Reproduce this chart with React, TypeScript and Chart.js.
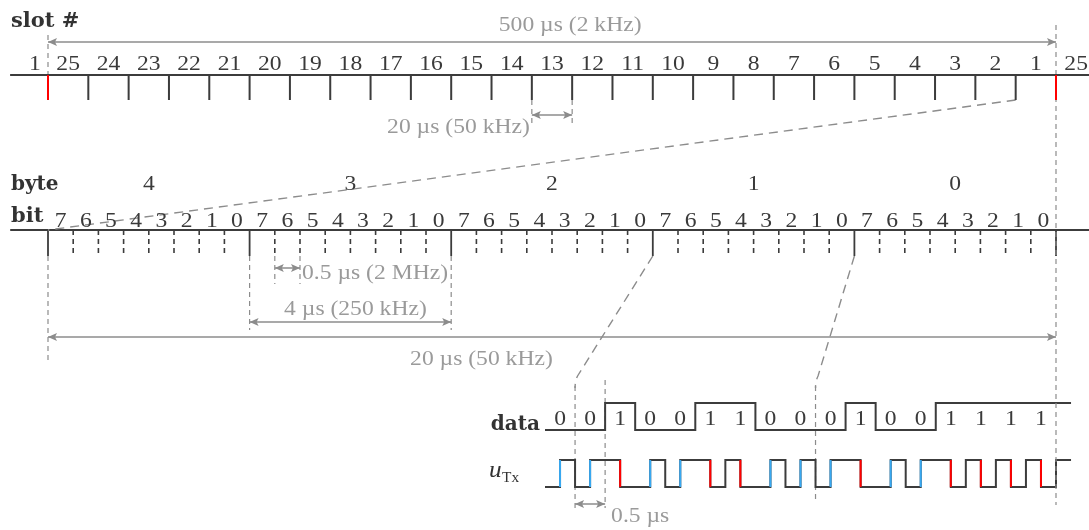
import React, { useEffect, useRef } from 'react';
import { Chart, registerables } from 'chart.js';
Chart.register(...registerables);

// ---------------- data ----------------
const slotNumbers = [1, 25, 24, 23, 22, 21, 20, 19, 18, 17, 16, 15, 14, 13, 12, 11, 10, 9, 8, 7, 6, 5, 4, 3, 2, 1, 25];
const byteNumbers = [4, 3, 2, 1, 0];
const bitNumbers = [7, 6, 5, 4, 3, 2, 1, 0];
// last bit of byte 2, then byte 1 and byte 0 (MSB first)
const dataBits = [0, 0, 1, 0, 0, 1, 1, 0, 0, 0, 1, 0, 0, 1, 1, 1, 1];
const nextBit = 1;
const rowLabels = { slot: 'slot #', byte: 'byte', bit: 'bit', data: 'data' };
const spanLabels = {
  frame: '500 µs (2 kHz)',
  slot: '20 µs (50 kHz)',
  bit: '0.5 µs (2 MHz)',
  byte: '4 µs (250 kHz)',
  word: '20 µs (50 kHz)',
  wave: '0.5 µs',
};

// ---------------- layout ----------------
const W = 1089;
const H = 530;
const SLOT_X0 = 48;
const SLOT_PX = (1056 - 48) / 25;
const BIT_PX = (1056 - 48) / 40;
const WAVE_X0 = 545;
const WAVE_PX = (1056 - 545) / 17;

const GRAY = '#8c8c8c';
const GRAY_TXT = '#9a9a9a';
const DARK = '#3c3c3c';
const RED = '#ff0000';
const BLUE = '#38a8f0';

const SLOT_Y = 75;
const SLOT_TICK = 100;
const BIT_Y = 230;
const BIT_TICK = 256;
const D_HI = 403;
const D_LO = 430;
const U_HI = 460;
const U_LO = 487;

type Seg = [number, number, number, number];
const segs = (list: Seg[]) =>
  list.flatMap(([x1, y1, x2, y2]) => [
    { x: x1, y: y1 },
    { x: x2, y: y2 },
    { x: x2, y: null as any },
  ]);

const ds = (axis: string, data: any[], color: string, width: number, dash: number[] = [], order = 5) => ({
  xAxisID: axis,
  yAxisID: 'y',
  data,
  borderColor: color,
  borderWidth: width,
  borderDash: dash,
  pointRadius: 0,
  pointHoverRadius: 0,
  fill: false,
  tension: 0,
  spanGaps: false,
  borderJoinStyle: 'miter',
  borderCapStyle: 'butt',
  order,
});

const arrows = [
  { axis: 'xSlot', from: 0, to: 25, y: 42 },
  { axis: 'xSlot', from: 12, to: 13, y: 115 },
  { axis: 'xBit', from: 9, to: 10, y: 268 },
  { axis: 'xBit', from: 8, to: 16, y: 322 },
  { axis: 'xBit', from: 0, to: 40, y: 337 },
  { axis: 'xWave', from: 1, to: 2, y: 504 },
];

function buildDatasets() {
  const list: any[] = [];
  // slot axis
  list.push(ds('xSlot', segs([[-0.94, SLOT_Y, 26, SLOT_Y]]), DARK, 2));
  const darkTicks: Seg[] = [];
  const redTicks: Seg[] = [];
  for (let k = 0; k <= 25; k++) {
    (k === 0 || k === 25 ? redTicks : darkTicks).push([k, SLOT_Y, k, SLOT_TICK]);
  }
  list.push(ds('xSlot', segs(darkTicks), DARK, 2));
  list.push(ds('xSlot', segs(redTicks), RED, 2, [], 1));
  list.push(ds('xSlot', segs([[0, 35, 0, SLOT_Y], [25, 25, 25, 505], [12, SLOT_TICK, 12, 125], [13, SLOT_TICK, 13, 125]]), GRAY, 1.2, [5, 4]));
  list.push(ds('xSlot', segs([[24, SLOT_TICK, 0, BIT_Y]]), GRAY, 1.4, [9, 6]));

  // bit axis
  list.push(ds('xBit', segs([[-1.5, BIT_Y, 42, BIT_Y]]), DARK, 2));
  const byteTicks: Seg[] = [];
  const bitTicks: Seg[] = [];
  for (let k = 0; k <= 40; k++) {
    (k % 8 === 0 ? byteTicks : bitTicks).push([k, BIT_Y, k, BIT_TICK]);
  }
  list.push(ds('xBit', segs(byteTicks), DARK, 1.8));
  list.push(ds('xBit', segs(bitTicks), DARK, 1.6, [5, 4]));
  list.push(ds('xBit', segs([[0, BIT_TICK, 0, 362], [8, BIT_TICK, 8, 330], [16, BIT_TICK, 16, 330], [9, BIT_TICK, 9, 284], [10, BIT_TICK, 10, 284]]), GRAY, 1.2, [5, 4]));

  // arrows shafts
  arrows.forEach((a) => list.push(ds(a.axis, segs([[a.from, a.y, a.to, a.y]]), GRAY, 1.5)));

  // data waveform
  const dataPts: any[] = [];
  const all = [...dataBits, nextBit];
  all.forEach((b, i) => {
    const y = b ? D_HI : D_LO;
    dataPts.push({ x: i, y });
    dataPts.push({ x: i === all.length - 1 ? i + 0.5 : i + 1, y });
  });
  list.push(ds('xWave', dataPts, DARK, 2));

  // Manchester-coded uTx
  const uPts: any[] = [];
  const blue: Seg[] = [];
  const red: Seg[] = [];
  all.forEach((b, i) => {
    const first = b ? U_HI : U_LO;
    const second = b ? U_LO : U_HI;
    uPts.push({ x: i, y: first });
    uPts.push({ x: i + 0.5, y: first });
    if (i === all.length - 1) return;
    uPts.push({ x: i + 0.5, y: second });
    uPts.push({ x: i + 1, y: second });
    (b ? red : blue).push([i + 0.5, first, i + 0.5, second]);
  });
  list.push(ds('xWave', uPts, DARK, 2));
  list.push(ds('xWave', segs(blue), BLUE, 2, [], 1));
  list.push(ds('xWave', segs(red), RED, 2, [], 1));
  list.push(ds('xWave', segs([[1, 386, 1, 510], [2, 380, 2, 508], [9, 386, 9, 500]]), GRAY, 1.2, [5, 4]));
  return list;
}

function drawText(ctx: CanvasRenderingContext2D, str: string, x: number, y: number, font: string, color: string, align: 'left' | 'center' | 'right' = 'center', sx = 1.18) {
  ctx.save();
  ctx.font = font;
  ctx.fillStyle = color;
  ctx.textBaseline = 'alphabetic';
  ctx.textAlign = 'left';
  const w = ctx.measureText(str).width * sx;
  const x0 = align === 'center' ? x - w / 2 : align === 'right' ? x - w : x;
  ctx.translate(x0, y);
  ctx.scale(sx, 1);
  ctx.fillText(str, 0, 0);
  ctx.restore();
}

function arrowHead(ctx: CanvasRenderingContext2D, x: number, y: number, dir: number) {
  ctx.beginPath();
  ctx.moveTo(x, y);
  ctx.lineTo(x - dir * 9, y - 4);
  ctx.lineTo(x - dir * 7, y);
  ctx.lineTo(x - dir * 9, y + 4);
  ctx.closePath();
  ctx.fill();
}

const NUM = '20px "Liberation Serif"';
const BOLD = 'bold 20px "DejaVu Serif"';

const overlay = {
  id: 'overlay',
  afterDatasetsDraw(chart: any) {
    const ctx: CanvasRenderingContext2D = chart.ctx;
    const s = chart.scales;
    const px = (axis: string, v: number) => s[axis].getPixelForValue(v);
    const py = (v: number) => s.y.getPixelForValue(v);

    // connectors from byte boundaries to waveform
    ctx.save();
    ctx.strokeStyle = GRAY;
    ctx.lineWidth = 1.4;
    ctx.setLineDash([9, 6]);
    [[24, 1], [32, 9]].forEach(([bit, wv]) => {
      const x1 = px('xBit', bit);
      const x2 = px('xWave', wv);
      ctx.beginPath();
      ctx.moveTo(x1, py(BIT_TICK));
      ctx.lineTo(x2 + 2.5, py(376));
      ctx.quadraticCurveTo(x2, py(381), x2, py(388));
      ctx.stroke();
    });
    ctx.restore();

    // arrow heads
    ctx.save();
    ctx.fillStyle = GRAY;
    arrows.forEach((a) => {
      arrowHead(ctx, px(a.axis, a.from), py(a.y), -1);
      arrowHead(ctx, px(a.axis, a.to), py(a.y), 1);
    });
    ctx.restore();

    // row labels
    drawText(ctx, rowLabels.slot, 11, py(27), BOLD, '#333', 'left', 1.05);
    drawText(ctx, rowLabels.byte, 11, py(190), BOLD, '#333', 'left', 1.0);
    drawText(ctx, rowLabels.bit, 11, py(222), BOLD, '#333', 'left', 1.05);
    drawText(ctx, rowLabels.data, 540, py(430), BOLD, '#333', 'right', 1.0);
    // u_Tx
    drawText(ctx, 'u', 489, py(477), 'italic 23px "Liberation Serif"', '#333', 'left', 1.1);
    drawText(ctx, 'Tx', 502, py(482), '14px "Liberation Serif"', '#333', 'left', 1.1);

    // slot numbers
    slotNumbers.forEach((n, i) => {
      const x = Math.max(px('xSlot', i - 0.5), 35);
      drawText(ctx, String(n), x, py(70), NUM, '#3a3a3a');
    });
    // byte numbers
    byteNumbers.forEach((n, i) => {
      drawText(ctx, String(n), px('xBit', i * 8 + 4), py(190), NUM, '#3a3a3a');
    });
    // bit numbers
    byteNumbers.forEach((_, b) => {
      bitNumbers.forEach((n, j) => {
        drawText(ctx, String(n), px('xBit', b * 8 + j + 0.5), py(227), NUM, '#3a3a3a');
      });
    });
    // data bit labels
    dataBits.forEach((b, i) => {
      drawText(ctx, String(b), px('xWave', i + 0.5), py(425), NUM, '#3a3a3a');
    });

    // span labels
    drawText(ctx, spanLabels.frame, px('xSlot', 12.95), py(31), NUM, GRAY_TXT);
    drawText(ctx, spanLabels.slot, px('xSlot', 12) - 2, py(133), NUM, GRAY_TXT, 'right');
    drawText(ctx, spanLabels.bit, px('xBit', 10) + 2, py(279), NUM, GRAY_TXT, 'left');
    drawText(ctx, spanLabels.byte, px('xBit', 12.2), py(315), NUM, GRAY_TXT);
    drawText(ctx, spanLabels.word, px('xBit', 17.2), py(365), NUM, GRAY_TXT);
    drawText(ctx, spanLabels.wave, px('xWave', 2) + 6, py(522), NUM, GRAY_TXT, 'left');
  },
};

export default function App() {
  const ref = useRef<HTMLCanvasElement>(null);
  useEffect(() => {
    if (!ref.current) return;
    const chart = new Chart(ref.current, {
      type: 'line',
      data: { datasets: buildDatasets() as any },
      options: {
        animation: false,
        responsive: false,
        devicePixelRatio: 1,
        events: [],
        layout: { padding: 0 },
        plugins: { legend: { display: false }, tooltip: { enabled: false } },
        scales: {
          xSlot: { type: 'linear', axis: 'x', display: false, min: -SLOT_X0 / SLOT_PX, max: (W - SLOT_X0) / SLOT_PX },
          xBit: { type: 'linear', axis: 'x', display: false, min: -SLOT_X0 / BIT_PX, max: (W - SLOT_X0) / BIT_PX },
          xWave: { type: 'linear', axis: 'x', display: false, min: -WAVE_X0 / WAVE_PX, max: (W - WAVE_X0) / WAVE_PX },
          y: { type: 'linear', axis: 'y', display: false, min: 0, max: H, reverse: true },
        },
      } as any,
      plugins: [overlay],
    });
    return () => chart.destroy();
  }, []);
  return (
    <div style={{ position: 'fixed', left: 0, top: 0, width: W, height: H, background: '#fff' }}>
      <canvas ref={ref} width={W} height={H} style={{ display: 'block', width: W, height: H }} />
    </div>
  );
}
